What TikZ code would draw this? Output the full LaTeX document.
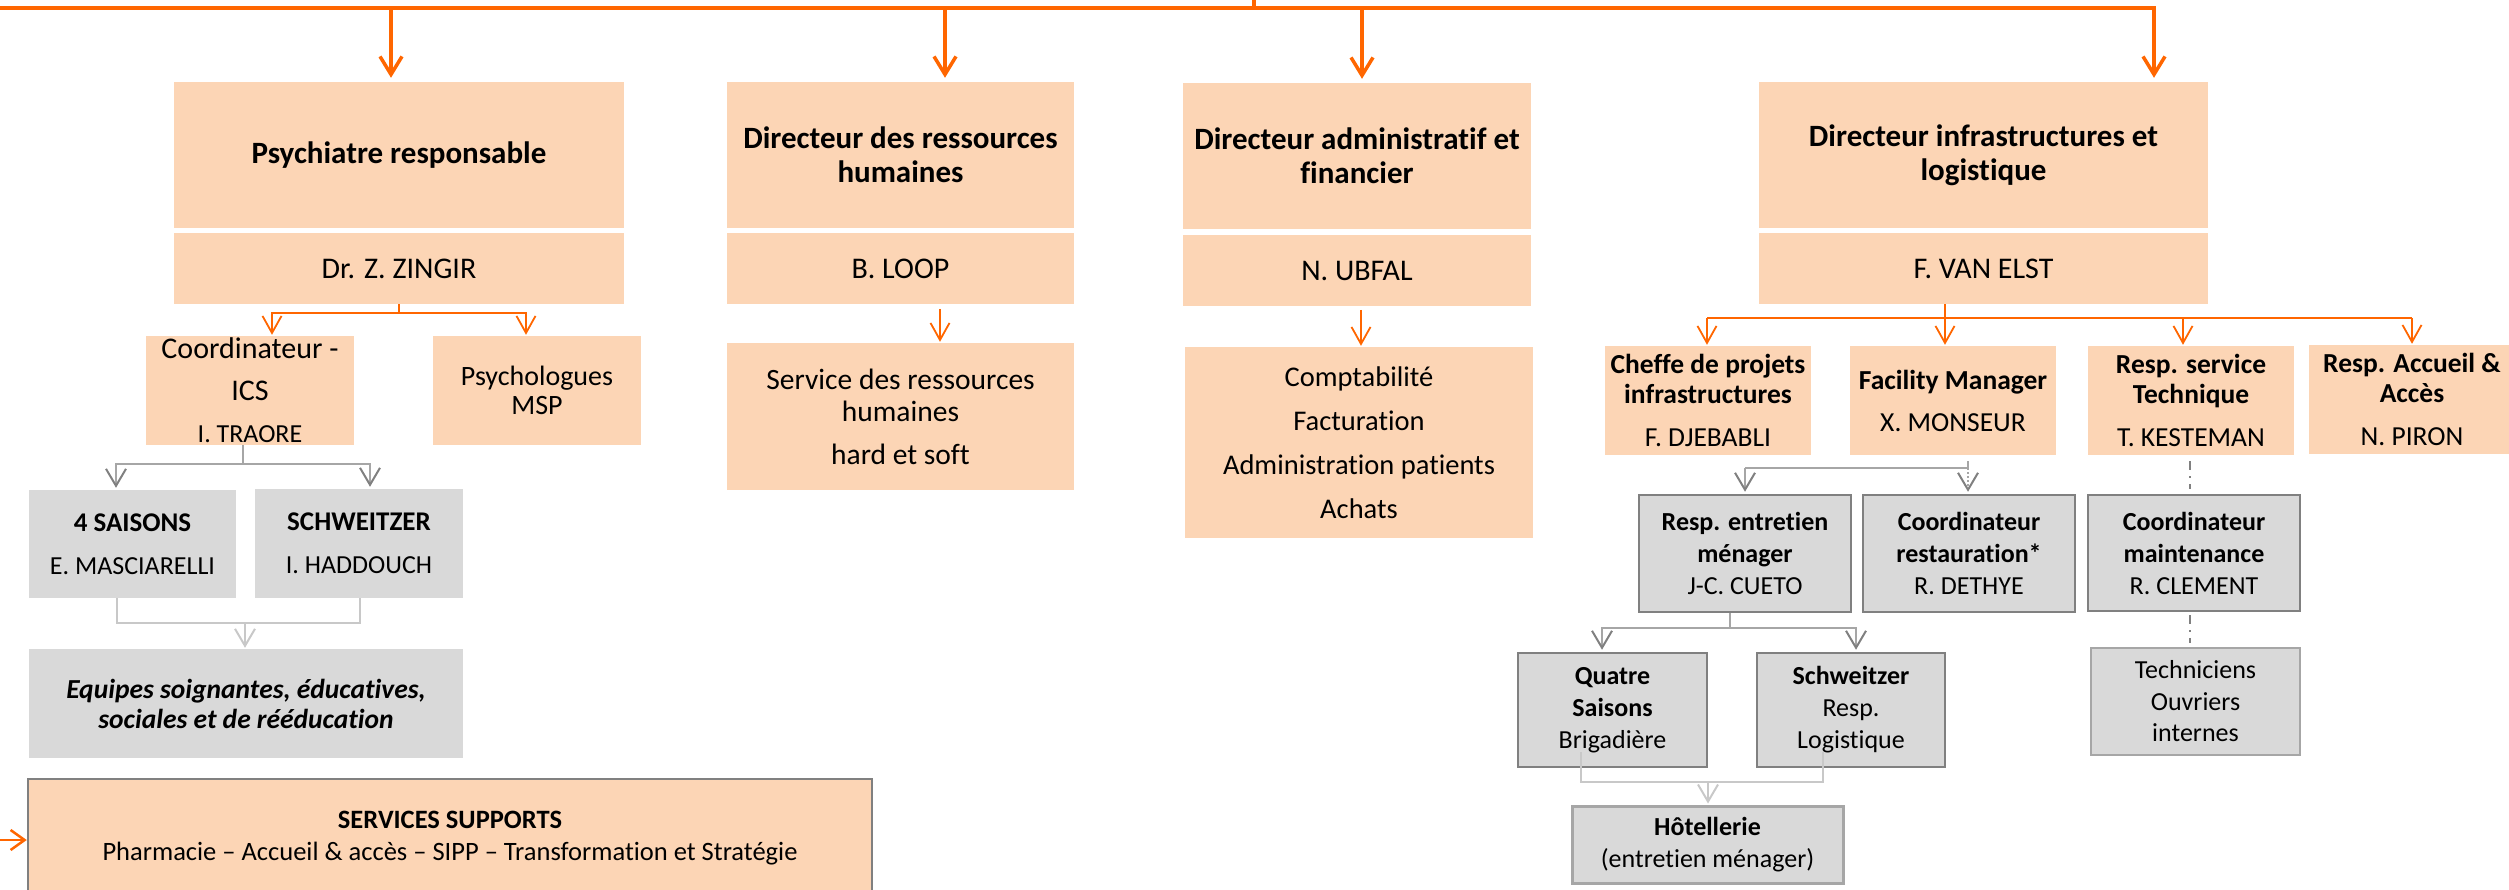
\documentclass[tikz,border=0pt]{standalone}
\usepackage{fontspec}
\setmainfont{Carlito}[Ligatures={TeX,NoCommon}]
\usetikzlibrary{arrows.meta}
\definecolor{orng}{RGB}{255,102,0}
\definecolor{peach}{RGB}{252,213,181}
\definecolor{lgray}{RGB}{217,217,217}
\definecolor{bgray}{RGB}{128,128,128}
\definecolor{cgray}{RGB}{166,166,166}
\definecolor{agray}{RGB}{128,128,128}
\definecolor{pgray}{RGB}{200,200,200}
\newcommand{\fHdr}{\fontsize{31}{34}\selectfont\bfseries}
\newcommand{\fName}{\fontsize{30}{36}\selectfont}
\tikzset{
  peachbox/.style={fill=peach, draw=none, inner sep=0pt, align=center, text=black},
  graybox/.style={fill=lgray, draw=none, inner sep=0pt, align=center, text=black},
  gbbox/.style={fill=lgray, draw=bgray, line width=2.5pt, inner sep=0pt, align=center, text=black},
  mainline/.style={draw=orng, line width=3.5pt},
  mainarrow/.style={mainline, -{Straight Barb[length=18pt,width=22pt]}, shorten >=4pt},
  orline/.style={draw=orng, line width=1.8pt},
  orarrow/.style={orline, -{Straight Barb[length=17pt,width=19pt]}, shorten >=1pt},
  gline/.style={draw=cgray, line width=2pt},
  garrow/.style={gline, -{Straight Barb[length=17pt,width=20pt,color=agray]}, shorten >=2pt},
  lline/.style={draw=pgray, line width=2pt},
  larrow/.style={lline, -{Straight Barb[length=17pt,width=20pt]}, shorten >=1pt},
  ddline/.style={draw=agray, line width=1.5pt, dash pattern=on 9pt off 6pt on 2pt off 6pt},
}
\begin{document}
\begin{tikzpicture}[x=1pt,y=-1pt]
\useasboundingbox (0,0) rectangle (2509,890);
\clip (0,0) rectangle (2509,890);

% ---------- column 1 ----------
\node[peachbox, minimum width=450, minimum height=146, font=\fHdr] (psyh) at (399,155) {Psychiatre responsable};
\node[peachbox, minimum width=450, minimum height=71, font=\fName] (psyn) at (399,268.5) {Dr. Z. ZINGIR};
\node[peachbox, minimum width=208, minimum height=109, font=\fontsize{30}{42}\selectfont] (coord) at (250,390.5)
  {Coordinateur -\\ICS\\{\fontsize{26}{42}\selectfont I. TRAORE}};
\node[peachbox, minimum width=208, minimum height=109, font=\fontsize{28}{29}\selectfont] (psychol) at (537,390.5)
  {Psychologues\\MSP};
\node[graybox, minimum width=207, minimum height=108, font=\fontsize{27}{43}\selectfont] (saisons4) at (132.5,544)
  {{\bfseries 4 SAISONS}\\{\fontsize{26}{43}\selectfont E. MASCIARELLI}};
\node[graybox, minimum width=208, minimum height=109, font=\fontsize{27}{43}\selectfont] (schw1) at (359,543.5)
  {{\bfseries SCHWEITZER}\\{\fontsize{26}{43}\selectfont I. HADDOUCH}};
\node[graybox, minimum width=434, minimum height=109, font=\fontsize{27.5}{30}\selectfont\bfseries\itshape] (equipes) at (246,703.5)
  {Equipes soignantes, éducatives,\\sociales et de rééducation};
\node[peachbox, draw=bgray, line width=2.5pt, minimum width=844, minimum height=118, font=\fontsize{26.5}{32}\selectfont] (support) at (450,838)
  {{\bfseries SERVICES SUPPORTS}\\Pharmacie – Accueil \& accès – SIPP – Transformation et Stratégie};

% ---------- column 2 ----------
\node[peachbox, minimum width=347, minimum height=146, font=\fHdr] (rhh) at (900.5,155) {Directeur des ressources\\humaines};
\node[peachbox, minimum width=347, minimum height=71, font=\fName] (rhn) at (900.5,268.5) {B. LOOP};
\node[peachbox, minimum width=347, minimum height=147, font=\fontsize{29.5}{32}\selectfont] (rhs) at (900.5,416.5)
  {Service des ressources\\humaines\\[11pt]hard et soft};

% ---------- column 3 ----------
\node[peachbox, minimum width=348, minimum height=146, font=\fHdr] (afh) at (1357,156) {Directeur administratif et\\financier};
\node[peachbox, minimum width=348, minimum height=71, font=\fName] (afn) at (1357,270.5) {N. UBFAL};
\node[peachbox, minimum width=348, minimum height=191, font=\fontsize{28.5}{44}\selectfont] (afs) at (1359,442.5)
  {Comptabilité\\Facturation\\Administration patients\\Achats};

% ---------- column 4 ----------
\node[peachbox, minimum width=449, minimum height=146, font=\fHdr] (ilh) at (1983.5,155) {Directeur infrastructures et\\logistique};
\node[peachbox, minimum width=449, minimum height=71, font=\fName] (iln) at (1983.5,268.5) {F. VAN ELST};

\node[peachbox, minimum width=206, minimum height=109, font=\fontsize{27.5}{30}\selectfont\bfseries] (cheffe) at (1708,400.5)
  {Cheffe de projets\\infrastructures\\[13pt]{\mdseries F. DJEBABLI}};
\node[peachbox, minimum width=206, minimum height=109, font=\fontsize{27.5}{30}\selectfont\bfseries] (facility) at (1953,400.5)
  {Facility Manager\\[12pt]{\mdseries X. MONSEUR}};
\node[peachbox, minimum width=206, minimum height=109, font=\fontsize{27.5}{30}\selectfont\bfseries] (resptech) at (2191,400.5)
  {Resp. service\\Technique\\[13pt]{\mdseries T. KESTEMAN}};
\node[peachbox, minimum width=206, minimum height=109, font=\fontsize{27.5}{30}\selectfont\bfseries] (accueil) at (2412,399.5)
  {Resp. Accueil \&\\Accès\\[13pt]{\mdseries N. PIRON}};

\node[gbbox, minimum width=212, minimum height=117, font=\fontsize{26}{32}\selectfont\bfseries] (entretien) at (1745,553.5)
  {Resp. entretien\\ménager\\{\mdseries J-C. CUETO}};
\node[gbbox, minimum width=212, minimum height=117, font=\fontsize{26}{32}\selectfont\bfseries] (restau) at (1969,553.5)
  {Coordinateur\\restauration*\\{\mdseries R. DETHYE}};
\node[gbbox, minimum width=212, minimum height=116, font=\fontsize{26}{32}\selectfont\bfseries] (maint) at (2194,553)
  {Coordinateur\\maintenance\\{\mdseries R. CLEMENT}};
\node[graybox, draw=cgray, line width=2pt, minimum width=209, minimum height=107, font=\fontsize{26}{31.5}\selectfont] (tech) at (2195.5,701.5)
  {Techniciens\\Ouvriers\\internes};
\node[gbbox, minimum width=189, minimum height=114, font=\fontsize{26}{32}\selectfont\bfseries] (quatre) at (1612.5,710)
  {Quatre\\Saisons\\{\mdseries Brigadière}};
\node[gbbox, minimum width=188, minimum height=114, font=\fontsize{26}{32}\selectfont\bfseries] (schw2) at (1851,710)
  {Schweitzer\\{\mdseries Resp.}\\{\mdseries Logistique}};
\node[gbbox, draw=cgray, line width=3pt, minimum width=271, minimum height=77, font=\fontsize{26}{32}\selectfont] (hotel) at (1707.5,844.5)
  {{\bfseries Hôtellerie}\\(entretien ménager)};

% ---------- connectors ----------
\coordinate (tL) at (0,8);
\coordinate (tR) at (2154,8);
\coordinate (tS) at (1254,0);
\coordinate (t1) at (391,8);
\coordinate (t2) at (945,8);
\coordinate (t3) at (1362,8);
\draw[mainarrow] (tL) -- (tR) -- (tR |- ilh.north);
\draw[mainline] (tS) -- (tS |- tL);
\draw[mainarrow] (t1) -- (t1 |- psyh.north);
\draw[mainarrow] (t2) -- (t2 |- rhh.north);
\draw[mainarrow] (t3) -- (t3 |- afh.north);

\coordinate (z1) at (399,313);
\coordinate (z2) at (272,313);
\coordinate (z3) at (526,313);
\draw[orline] (psyn.south) -- (z1);
\draw[orarrow] (z1) -- (z2) -- (z2 |- coord.north);
\draw[orarrow] (z1) -- (z3) -- (z3 |- psychol.north);

\coordinate (r1) at (940,309);
\draw[orarrow] (r1) -- (r1 |- rhs.north);
\coordinate (u1) at (1361,310);
\draw[orarrow] (u1) -- (u1 |- afs.north);

\coordinate (v0) at (1945,318);
\coordinate (vL) at (1707,318);
\coordinate (vR) at (2412,318);
\coordinate (v2) at (2183,318);
\draw[orline] (iln.south -| v0) -- (v0);
\draw[orline] (vL) -- (vR);
\draw[orarrow] (vL) -- (vL |- cheffe.north);
\draw[orarrow] (v0) -- (v0 |- facility.north);
\draw[orarrow] (v2) -- (v2 |- resptech.north);
\draw[orarrow] (vR) -- (vR |- accueil.north);

\coordinate (c0) at (243,464);
\coordinate (cL) at (116,464);
\coordinate (cR) at (370,464);
\draw[gline] (coord.south -| c0) -- (c0);
\draw[garrow] (c0) -- (cL) -- (cL |- saisons4.north);
\draw[garrow] (c0) -- (cR) -- (cR |- schw1.north);

\coordinate (e1) at (117,623);
\coordinate (e2) at (360,623);
\coordinate (e0) at (245,623);
\draw[lline] (e1 |- saisons4.south) -- (e1) -- (e2) -- (e2 |- schw1.south);
\draw[larrow] (e0) -- (e0 |- equipes.north);

\coordinate (m00) at (1968,461);
\coordinate (m0) at (1968,468);
\coordinate (m1) at (1745,468);
\draw[gline] (m00) -- (m0) -- (m1);
\draw[garrow] (m1) -- (m1 |- entretien.north);
\draw[garrow, dotted] (m0) -- (m0 |- restau.north);

\coordinate (kx) at (2190,0);
\draw[ddline, shorten <=6pt, shorten >=5pt] (resptech.south -| kx) -- (maint.north -| kx);
\draw[ddline, shorten <=3pt, shorten >=4pt] (maint.south -| kx) -- (tech.north -| kx);

\coordinate (q0) at (1730,628);
\coordinate (qL) at (1602,628);
\coordinate (qR) at (1856,628);
\draw[gline] (entretien.south -| q0) -- (q0);
\draw[garrow] (q0) -- (qL) -- (qL |- quatre.north);
\draw[garrow] (q0) -- (qR) -- (qR |- schw2.north);

\coordinate (h1s) at (1581,752);
\coordinate (h2s) at (1823,752);
\coordinate (h1) at (1581,782);
\coordinate (h2) at (1823,782);
\coordinate (h0) at (1708,782);
\draw[lline] (h1s) -- (h1) -- (h2) -- (h2s);
\draw[larrow] (h0) -- (h0 |- hotel.north);

\coordinate (sL) at (0,840);
\draw[orline, line width=2.5pt, -{Straight Barb[length=14pt,width=20pt]}] (sL) -- (sL -| support.west);
\end{tikzpicture}
\end{document}
